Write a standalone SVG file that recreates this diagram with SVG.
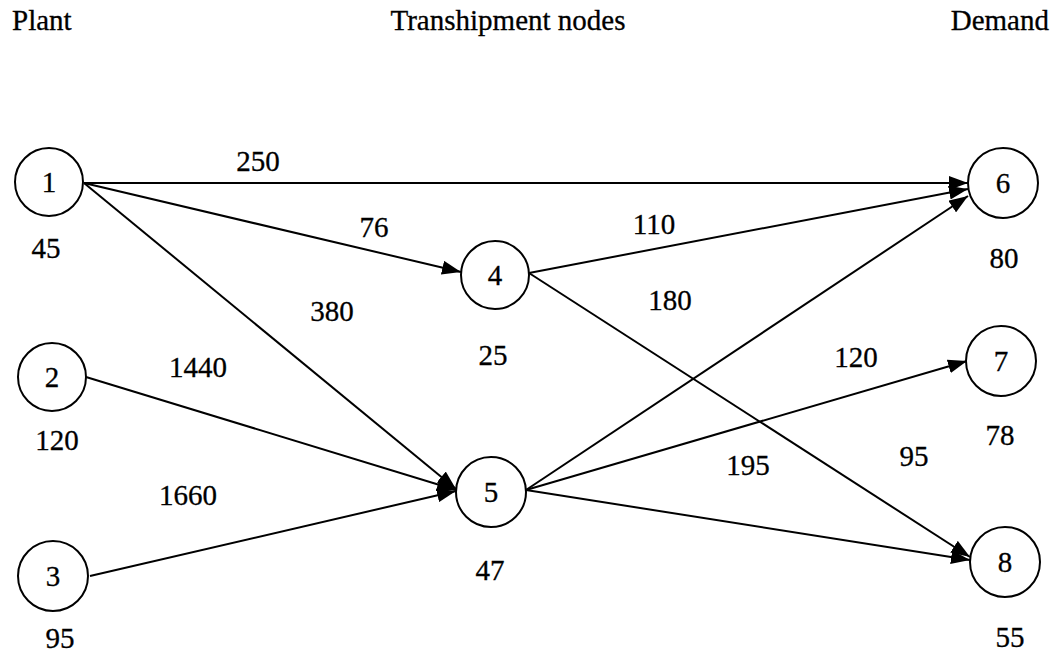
<svg xmlns="http://www.w3.org/2000/svg" width="1058" height="664" viewBox="0 0 1058 664">
<style>
text{font-family:"Liberation Serif","Times New Roman",serif;font-size:29px;fill:#000;stroke:#000;stroke-width:0.3}
.c{text-anchor:middle}
circle{fill:#fff;stroke:#000;stroke-width:2}
line{stroke:#000;stroke-width:2}
</style>
<defs>
<marker id="ah" markerUnits="userSpaceOnUse" markerWidth="20" markerHeight="14" refX="19" refY="7" orient="auto">
<path d="M0,0 L19,7 L0,14 z" fill="#000"/>
</marker>
</defs>
<rect width="1058" height="664" fill="#fff"/>
<text x="12" y="30">Plant</text>
<text x="508" y="30" class="c">Transhipment nodes</text>
<text x="1049" y="30" text-anchor="end">Demand</text>
<g id="connectors">
<line x1="84" y1="183" x2="968" y2="183" marker-end="url(#ah)"/>
<line x1="84" y1="183" x2="461" y2="272" marker-end="url(#ah)"/>
<line x1="84" y1="183" x2="456" y2="489" marker-end="url(#ah)"/>
<line x1="86" y1="377" x2="456" y2="490" marker-end="url(#ah)"/>
<line x1="90" y1="576" x2="456" y2="491" marker-end="url(#ah)"/>
<line x1="529" y1="273" x2="968" y2="189" marker-end="url(#ah)"/>
<line x1="529" y1="273" x2="970" y2="557" marker-end="url(#ah)"/>
<line x1="526" y1="490" x2="968" y2="196" marker-end="url(#ah)"/>
<line x1="526" y1="490" x2="967" y2="361" marker-end="url(#ah)"/>
<line x1="526" y1="490" x2="970" y2="560" marker-end="url(#ah)"/>
</g>
<g id="edge-labels">
<text x="258" y="171" class="c">250</text>
<text x="374" y="237" class="c">76</text>
<text x="654" y="234" class="c">110</text>
<text x="332" y="321" class="c">380</text>
<text x="670" y="310" class="c">180</text>
<text x="198" y="377" class="c">1440</text>
<text x="856" y="367" class="c">120</text>
<text x="914" y="466" class="c">95</text>
<text x="748" y="475" class="c">195</text>
<text x="188" y="505" class="c">1660</text>
</g>
<g id="n1"><circle cx="49" cy="182" r="34"/><text x="49" y="192" class="c">1</text><text x="46" y="258" class="c">45</text></g>
<g id="n2"><circle cx="52" cy="377" r="34"/><text x="52" y="387" class="c">2</text><text x="57" y="450" class="c">120</text></g>
<g id="n3"><circle cx="53" cy="576" r="35"/><text x="53" y="586" class="c">3</text><text x="60" y="648" class="c">95</text></g>
<g id="n4"><circle cx="495" cy="275" r="34"/><text x="495" y="285" class="c">4</text><text x="493" y="365" class="c">25</text></g>
<g id="n5"><circle cx="491" cy="492" r="35"/><text x="491" y="502" class="c">5</text><text x="490" y="580" class="c">47</text></g>
<g id="n6"><circle cx="1003" cy="183" r="35"/><text x="1003" y="193" class="c">6</text><text x="1004" y="268" class="c">80</text></g>
<g id="n7"><circle cx="1001" cy="361" r="35"/><text x="1001" y="371" class="c">7</text><text x="1000" y="445" class="c">78</text></g>
<g id="n8"><circle cx="1005" cy="562" r="35"/><text x="1005" y="572" class="c">8</text><text x="1010" y="647" class="c">55</text></g>
</svg>
